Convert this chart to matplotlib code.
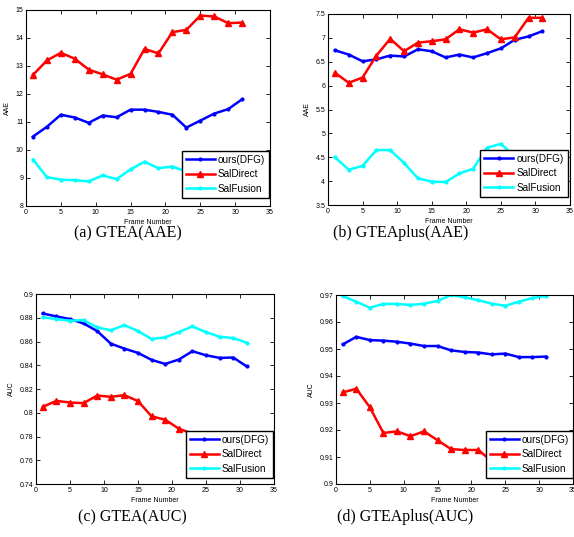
import matplotlib
matplotlib.use("Agg")
import matplotlib.pyplot as plt
from matplotlib.ticker import FuncFormatter

frames = [1, 3, 5, 7, 9, 11, 13, 15, 17, 19, 21, 23, 25, 27, 29, 31]

# (a) GTEA AAE
a_ours = [10.48, 10.83, 11.26, 11.16, 10.97, 11.23, 11.17, 11.44, 11.44, 11.36, 11.26, 10.80, 11.05, 11.30, 11.46, 11.81]
a_direct = [12.68, 13.20, 13.47, 13.26, 12.87, 12.70, 12.51, 12.72, 13.61, 13.45, 14.21, 14.29, 14.80, 14.77, 14.53, 14.55]
a_fusion = [9.66, 9.03, 8.94, 8.92, 8.88, 9.09, 8.96, 9.31, 9.58, 9.35, 9.41, 9.23, 9.15, 9.25, 9.30, 9.35]

# (b) GTEAplus AAE
b_ours = [6.74, 6.65, 6.51, 6.55, 6.63, 6.61, 6.76, 6.72, 6.59, 6.65, 6.59, 6.68, 6.78, 6.96, 7.03, 7.14]
b_direct = [6.27, 6.06, 6.17, 6.63, 6.98, 6.72, 6.90, 6.93, 6.97, 7.18, 7.11, 7.18, 6.97, 7.01, 7.42, 7.42]
b_fusion = [4.50, 4.24, 4.32, 4.65, 4.65, 4.38, 4.06, 3.99, 3.98, 4.16, 4.26, 4.70, 4.78, 4.52, 4.46, 4.42]

# (c) GTEA AUC
c_ours = [0.8836, 0.8811, 0.8789, 0.8752, 0.8688, 0.8582, 0.8540, 0.8504, 0.8445, 0.8411, 0.8448, 0.8518, 0.8484, 0.8462, 0.8465, 0.8390]
c_direct = [0.8050, 0.8100, 0.8086, 0.8081, 0.8145, 0.8134, 0.8148, 0.8098, 0.7970, 0.7941, 0.7866, 0.7824, 0.7800, 0.7775, 0.7750, 0.7725]
c_fusion = [0.8803, 0.8789, 0.8775, 0.8780, 0.8719, 0.8694, 0.8738, 0.8688, 0.8621, 0.8635, 0.8679, 0.8727, 0.8679, 0.8640, 0.8629, 0.8590]

# (d) GTEAplus AUC
d_ours = [0.9517, 0.9545, 0.9533, 0.9531, 0.9527, 0.9520, 0.9511, 0.9511, 0.9495, 0.9489, 0.9487, 0.9480, 0.9483, 0.9470, 0.9470, 0.9472]
d_direct = [0.9339, 0.9353, 0.9284, 0.9189, 0.9195, 0.9177, 0.9195, 0.9162, 0.9129, 0.9126, 0.9126, 0.9085, 0.9065, 0.9055, 0.9045, 0.9040]
d_fusion = [0.9696, 0.9675, 0.9653, 0.9667, 0.9667, 0.9663, 0.9668, 0.9678, 0.9700, 0.9691, 0.9681, 0.9668, 0.9660, 0.9675, 0.9689, 0.9696]

labels = ["ours(DFG)", "SalDirect", "SalFusion"]
captions = ["(a) GTEA(AAE)", "(b) GTEAplus(AAE)", "(c) GTEA(AUC)", "(d) GTEAplus(AUC)"]
ylabels = ["AAE", "AAE", "AUC", "AUC"]
ylims = [(8, 15), (3.5, 7.5), (0.74, 0.9), (0.9, 0.97)]
ysteps = [1, 0.5, 0.02, 0.01]

W, H = 574, 537
fig = plt.figure(figsize=(W / 100, H / 100), dpi=100)
plt.rcParams['font.family'] = ['Liberation Sans', 'DejaVu Sans']

# axes boxes in pixels: left, top, right, bottom
boxes = [(26, 10, 270, 206), (328, 14, 570, 205), (36, 294, 274, 484), (336, 295, 573, 484)]
leg_anchor = [(0.996, 0.041), (0.99, 0.042), (0.996, 0.032), (1.0, 0.032)]
cap_pos = [(128, 233), (401, 233), (132, 517), (405, 517)]

data = [(a_ours, a_direct, a_fusion), (b_ours, b_direct, b_fusion),
        (c_ours, c_direct, c_fusion), (d_ours, d_direct, d_fusion)]

fmt = FuncFormatter(lambda v, p: ("%g" % round(v, 4)))

for i in range(4):
    l, t, r, b = boxes[i]
    ax = fig.add_axes([l / W, 1 - b / H, (r - l) / W, (b - t) / H])
    ours, direct, fusion = data[i]
    ax.plot(frames, ours, color=(0, 0, 1), lw=1.8, marker='.', ms=4, label=labels[0])
    ax.plot(frames, direct, color=(1, 0, 0), lw=1.8, marker='^', ms=4.5, label=labels[1])
    ax.plot(frames, fusion, color=(0, 1, 1), lw=1.8, marker='.', ms=4, label=labels[2])
    ax.set_xlim(0, 35)
    ax.set_ylim(*ylims[i])
    ax.set_xticks(range(0, 36, 5))
    lo, hi = ylims[i]
    n = int(round((hi - lo) / ysteps[i]))
    ax.set_yticks([lo + k * ysteps[i] for k in range(n + 1)])
    ax.yaxis.set_major_formatter(fmt)
    ax.tick_params(direction='in', length=3, width=0.6, labelsize=5, pad=2,
                   top=True, right=True)
    for s in ax.spines.values():
        s.set_linewidth(0.8)
    ax.set_ylabel(ylabels[i], fontsize=5, labelpad=3)
    ax.set_xlabel("Frame Number", fontsize=5, labelpad=2)
    leg = ax.legend(loc='lower right', bbox_to_anchor=leg_anchor[i], fontsize=7.2,
                    frameon=True, fancybox=False, edgecolor='black', framealpha=1,
                    handlelength=2.9, handletextpad=0.3, labelspacing=0.45,
                    borderpad=0.4, borderaxespad=0)
    leg.get_frame().set_linewidth(1.0)
    cx, cy = cap_pos[i]
    fig.text(cx / W, 1 - cy / H, captions[i], ha='center', va='center',
             fontsize=11.5, family='Liberation Serif')

fig.savefig("out.png", dpi=100)
